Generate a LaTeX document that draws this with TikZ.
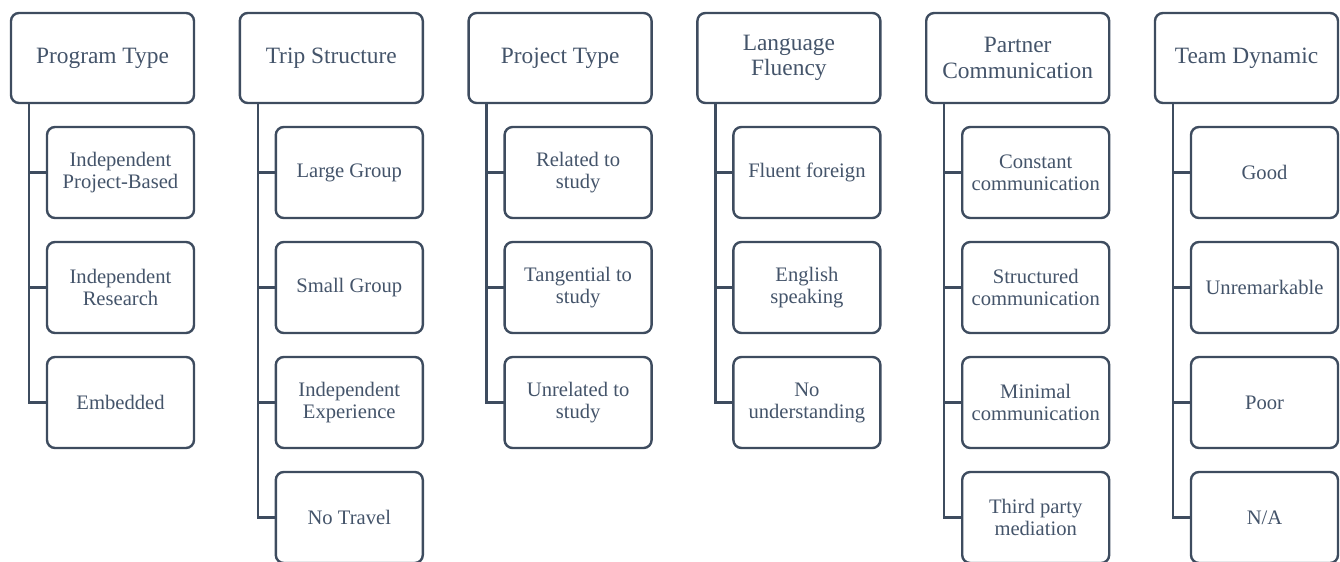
\documentclass[tikz,border=0pt]{standalone}
\usepackage{fontspec}
\setmainfont{Liberation Serif}
\usepackage{tikz}
\usetikzlibrary{positioning}
\definecolor{slate}{HTML}{44546A}
\definecolor{slateline}{HTML}{3E4C5F}

\begin{document}
\begin{tikzpicture}[
    node distance=12pt,
    head/.style={draw=slateline, line width=1.2pt, rounded corners=4pt, fill=white,
        outer sep=0pt, minimum width=91.5pt, minimum height=45pt, align=center,
        text=slate, font=\fontsize{11.7}{12.6}\selectfont},
    leaf/.style={draw=slateline, line width=1.2pt, rounded corners=4pt, fill=white,
        outer sep=0pt, minimum width=73.5pt, minimum height=45.5pt, align=center,
        text=slate, font=\fontsize{10.3}{11}\selectfont},
    link/.style={draw=slateline, line width=1.2pt}
]
\useasboundingbox (0,0) rectangle (670pt,-281pt);

% Intestazioni
\node[head] (prog) at (51.25pt,-29pt) {Program Type};
\node[head, right=22.9pt of prog] (trip) {Trip Structure};
\node[head, right=22.9pt of trip] (proj) {Project Type};
\node[head, right=22.9pt of proj] (lang) {Language\\Fluency};
\node[head, right=22.9pt of lang] (part) {Partner\\Communication};
\node[head, right=22.9pt of part] (team) {Team Dynamic};

% Program Type
\node[leaf, below=of prog.south east, anchor=north east] (prog1) {Independent\\Project-Based};
\node[leaf, below=of prog1] (prog2) {Independent\\Research};
\node[leaf, below=of prog2] (prog3) {Embedded};

% Trip Structure
\node[leaf, below=of trip.south east, anchor=north east] (trip1) {Large Group};
\node[leaf, below=of trip1] (trip2) {Small Group};
\node[leaf, below=of trip2] (trip3) {Independent\\Experience};
\node[leaf, below=of trip3] (trip4) {No Travel};

% Project Type
\node[leaf, below=of proj.south east, anchor=north east] (proj1) {Related to\\study};
\node[leaf, below=of proj1] (proj2) {Tangential to\\study};
\node[leaf, below=of proj2] (proj3) {Unrelated to\\study};

% Language Fluency
\node[leaf, below=of lang.south east, anchor=north east] (lang1) {Fluent foreign};
\node[leaf, below=of lang1] (lang2) {English\\speaking};
\node[leaf, below=of lang2] (lang3) {No\\understanding};

% Partner Communication
\node[leaf, below=of part.south east, anchor=north east] (part1) {Constant\\communication};
\node[leaf, below=of part1] (part2) {Structured\\communication};
\node[leaf, below=of part2] (part3) {Minimal\\communication};
\node[leaf, below=of part3] (part4) {Third party\\mediation};

% Team Dynamic
\node[leaf, below=of team.south east, anchor=north east] (team1) {Good};
\node[leaf, below=of team1] (team2) {Unremarkable};
\node[leaf, below=of team2] (team3) {Poor};
\node[leaf, below=of team3] (team4) {N/A};

% Collegamenti
\draw[link] ([xshift=9pt]prog.south west) |- (prog1.west);
\draw[link] ([xshift=9pt]prog.south west) |- (prog2.west);
\draw[link] ([xshift=9pt]prog.south west) |- (prog3.west);

\draw[link] ([xshift=9pt]trip.south west) |- (trip1.west);
\draw[link] ([xshift=9pt]trip.south west) |- (trip2.west);
\draw[link] ([xshift=9pt]trip.south west) |- (trip3.west);
\draw[link] ([xshift=9pt]trip.south west) |- (trip4.west);

\draw[link] ([xshift=9pt]proj.south west) |- (proj1.west);
\draw[link] ([xshift=9pt]proj.south west) |- (proj2.west);
\draw[link] ([xshift=9pt]proj.south west) |- (proj3.west);

\draw[link] ([xshift=9pt]lang.south west) |- (lang1.west);
\draw[link] ([xshift=9pt]lang.south west) |- (lang2.west);
\draw[link] ([xshift=9pt]lang.south west) |- (lang3.west);

\draw[link] ([xshift=9pt]part.south west) |- (part1.west);
\draw[link] ([xshift=9pt]part.south west) |- (part2.west);
\draw[link] ([xshift=9pt]part.south west) |- (part3.west);
\draw[link] ([xshift=9pt]part.south west) |- (part4.west);

\draw[link] ([xshift=9pt]team.south west) |- (team1.west);
\draw[link] ([xshift=9pt]team.south west) |- (team2.west);
\draw[link] ([xshift=9pt]team.south west) |- (team3.west);
\draw[link] ([xshift=9pt]team.south west) |- (team4.west);

\end{tikzpicture}
\end{document}
